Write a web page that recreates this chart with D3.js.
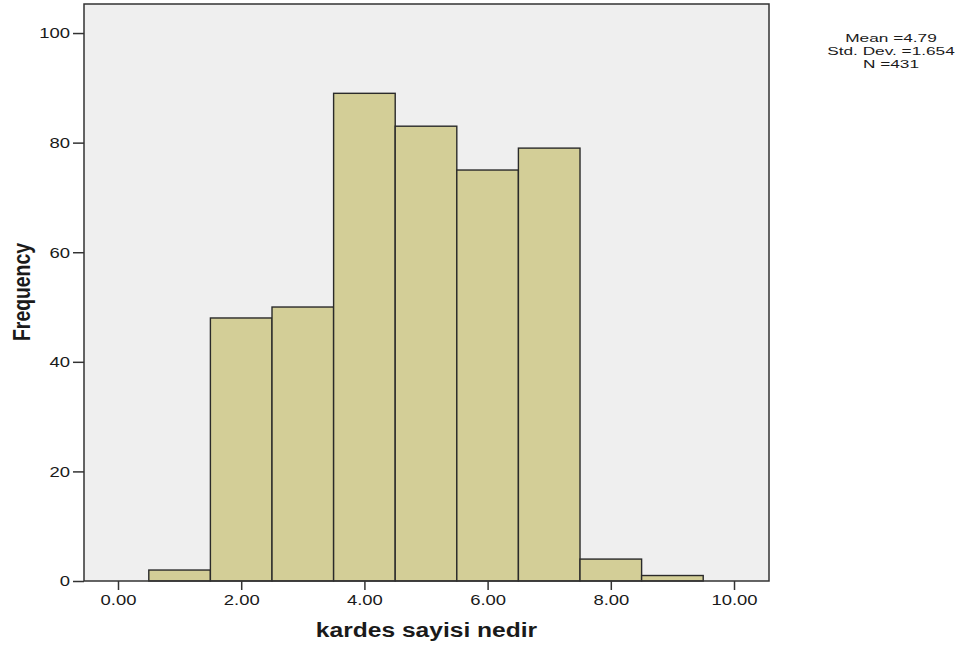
<!DOCTYPE html>
<html>
<head>
<meta charset="utf-8">
<script src="https://cdn.jsdelivr.net/npm/d3@7"></script>
<style>
  html, body { margin: 0; padding: 0; background: #ffffff; }
  svg { display: block; }
  text { font-family: "Liberation Sans", Arial, sans-serif; fill: #1a1a1a; }
</style>
</head>
<body>
<svg id="chart" width="963" height="646"></svg>
<script>
// ---- data ----
const binCenters = [1, 2, 3, 4, 5, 6, 7, 8, 9];
const frequencies = [2, 48, 50, 89, 83, 75, 79, 4, 1];
const binWidth = 1;
const xTickValues = [0, 2, 4, 6, 8, 10];
const yTickValues = [0, 20, 40, 60, 80, 100];
const statLines = ["Mean =4.79", "Std. Dev. =1.654", "N =431"];
const xTitle = "kardes sayisi nedir";
const yTitle = "Frequency";

// ---- layout ----
const plot = { left: 84, right: 769, top: 4, bottom: 581 };
const sx = 1.23; // horizontal stretch of the original rendering

const svg = d3.select("#chart");

const x = d3.scaleLinear().domain([-0.552, 10.568]).range([plot.left, plot.right]);
const y = d3.scaleLinear().domain([0, 105.3]).range([plot.bottom, plot.top]);

// plot background
svg.append("rect")
  .attr("x", plot.left).attr("y", plot.top)
  .attr("width", plot.right - plot.left).attr("height", plot.bottom - plot.top)
  .attr("fill", "#efefef");

// bars
svg.append("g").selectAll("rect")
  .data(binCenters.map((c, i) => ({ c, f: frequencies[i] })))
  .join("rect")
  .attr("x", d => x(d.c - binWidth / 2))
  .attr("width", d => x(d.c + binWidth / 2) - x(d.c - binWidth / 2))
  .attr("y", d => y(d.f))
  .attr("height", d => y(0) - y(d.f))
  .attr("fill", "#d3ce97")
  .attr("stroke", "#2a2a2a")
  .attr("stroke-width", 1.4);

// frame
svg.append("rect")
  .attr("x", plot.left).attr("y", plot.top)
  .attr("width", plot.right - plot.left).attr("height", plot.bottom - plot.top)
  .attr("fill", "none")
  .attr("stroke", "#333333")
  .attr("stroke-width", 1.5);

// x axis
const gx = svg.append("g")
  .attr("transform", `translate(0,${plot.bottom})`)
  .call(d3.axisBottom(x).tickValues(xTickValues).tickFormat(d3.format(".2f")).tickSize(9).tickPadding(4).tickSizeOuter(0));
gx.select(".domain").remove();
gx.selectAll(".tick line").attr("stroke", "#333").attr("stroke-width", 1.5);
gx.selectAll(".tick text")
  .attr("font-family", "Liberation Sans, Arial, sans-serif")
  .attr("font-size", 15)
  .attr("fill", "#1a1a1a")
  .attr("transform", `scale(${sx},1)`);

// y axis
const gy = svg.append("g")
  .attr("transform", `translate(${plot.left},0)`)
  .call(d3.axisLeft(y).tickValues(yTickValues).tickFormat(d3.format("d")).tickSize(11).tickSizeOuter(0));
gy.select(".domain").remove();
gy.selectAll(".tick line").attr("stroke", "#333").attr("stroke-width", 1.5);
gy.selectAll(".tick text")
  .attr("font-family", "Liberation Sans, Arial, sans-serif")
  .attr("font-size", 15)
  .attr("fill", "#1a1a1a")
  .attr("x", 0)
  .attr("transform", `translate(-14,0) scale(${sx},1)`);

// axis titles
svg.append("text")
  .attr("transform", `translate(${(plot.left + plot.right) / 2},637) scale(1.2,1)`)
  .attr("text-anchor", "middle")
  .attr("font-size", 20.5)
  .attr("font-weight", "bold")
  .text(xTitle);

svg.append("text")
  .attr("transform", `translate(30,292) scale(1.25,1) rotate(-90)`)
  .attr("text-anchor", "middle")
  .attr("font-size", 19.4)
  .attr("font-weight", "bold")
  .text(yTitle);

// statistics block (one text, one line per tspan)
svg.append("text")
  .attr("transform", `translate(891,42) scale(1.5,1)`)
  .attr("text-anchor", "middle")
  .attr("font-size", 11.5)
  .selectAll("tspan")
  .data(statLines)
  .join("tspan")
  .attr("x", 0)
  .attr("y", (d, i) => i * 13)
  .text(d => d);
</script>
</body>
</html>
